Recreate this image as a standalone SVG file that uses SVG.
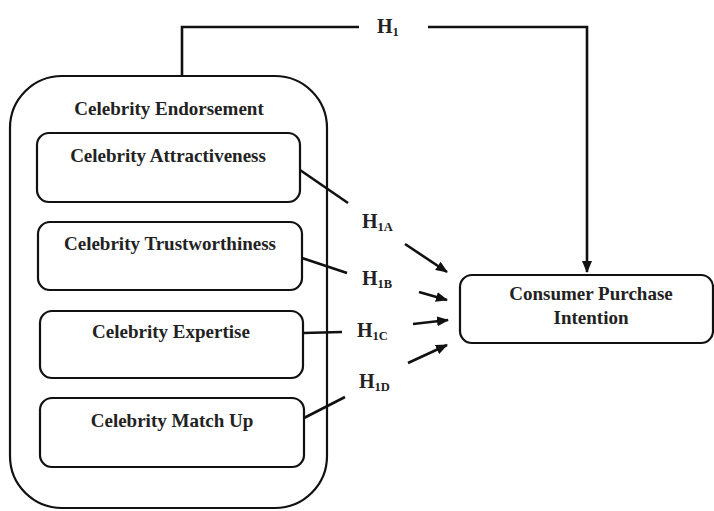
<svg xmlns="http://www.w3.org/2000/svg" width="714" height="511" viewBox="0 0 714 511">
<style>
.box{fill:#fff;stroke:#111;stroke-width:2.2}
.ln{fill:none;stroke:#111;stroke-width:2.6}
.t{font-family:"Liberation Serif","Times New Roman",serif;font-weight:bold;font-size:19px;fill:#222}
.h{font-family:"Liberation Serif","Times New Roman",serif;font-weight:bold;font-size:20px;fill:#222}
.s{font-size:12.5px}
</style>
<defs>
<marker id="ah" viewBox="0 0 12 10" refX="11" refY="5" markerWidth="12" markerHeight="10" markerUnits="userSpaceOnUse" orient="auto">
<path d="M0,0 L12,5 L0,10 Z" fill="#111"/>
</marker>
</defs>
<rect width="714" height="511" fill="#fff"/>
<g id="celebrity-endorsement">
<rect class="box" x="10" y="76" width="317" height="432" rx="52" ry="52"/>
<text class="t" x="169" y="115" text-anchor="middle">Celebrity Endorsement</text>
</g>
<g id="attractiveness">
<rect class="box" x="37" y="133" width="263" height="69" rx="12"/>
<text class="t" x="168" y="162" text-anchor="middle">Celebrity Attractiveness</text>
</g>
<g id="trustworthiness">
<rect class="box" x="38" y="222" width="264" height="68" rx="12"/>
<text class="t" x="170" y="250" text-anchor="middle">Celebrity Trustworthiness</text>
</g>
<g id="expertise">
<rect class="box" x="40" y="311" width="263" height="67" rx="12"/>
<text class="t" x="171" y="338" text-anchor="middle">Celebrity Expertise</text>
</g>
<g id="matchup">
<rect class="box" x="40" y="398" width="264" height="69" rx="12"/>
<text class="t" x="172" y="427" text-anchor="middle">Celebrity Match Up</text>
</g>
<g id="purchase-intention">
<rect class="box" x="460" y="275" width="253" height="68" rx="12"/>
<text class="t" x="591" y="300" text-anchor="middle">Consumer Purchase</text>
<text class="t" x="591" y="324" text-anchor="middle">Intention</text>
</g>
<g id="connectors">
<polyline class="ln" points="182,76 182,27 359,27"/>
<polyline class="ln" points="428,27 587,27 587,272" marker-end="url(#ah)"/>
<line class="ln" x1="300" y1="170" x2="348" y2="203"/>
<line class="ln" x1="302" y1="258" x2="347" y2="273"/>
<line class="ln" x1="303" y1="333" x2="342" y2="332"/>
<line class="ln" x1="304" y1="418" x2="345" y2="397"/>
<line class="ln" x1="405" y1="244" x2="447" y2="272" marker-end="url(#ah)"/>
<line class="ln" x1="419" y1="292" x2="447" y2="300" marker-end="url(#ah)"/>
<line class="ln" x1="413" y1="324" x2="448" y2="320" marker-end="url(#ah)"/>
<line class="ln" x1="408" y1="363" x2="447" y2="345" marker-end="url(#ah)"/>
</g>
<g id="labels">
<text class="h" x="377" y="33">H<tspan class="s" dy="3">1</tspan></text>
<text class="h" x="362" y="228">H<tspan class="s" dy="3">1A</tspan></text>
<text class="h" x="362" y="285">H<tspan class="s" dy="3">1B</tspan></text>
<text class="h" x="357" y="337">H<tspan class="s" dy="3">1C</tspan></text>
<text class="h" x="359" y="388">H<tspan class="s" dy="3">1D</tspan></text>
</g>
</svg>
